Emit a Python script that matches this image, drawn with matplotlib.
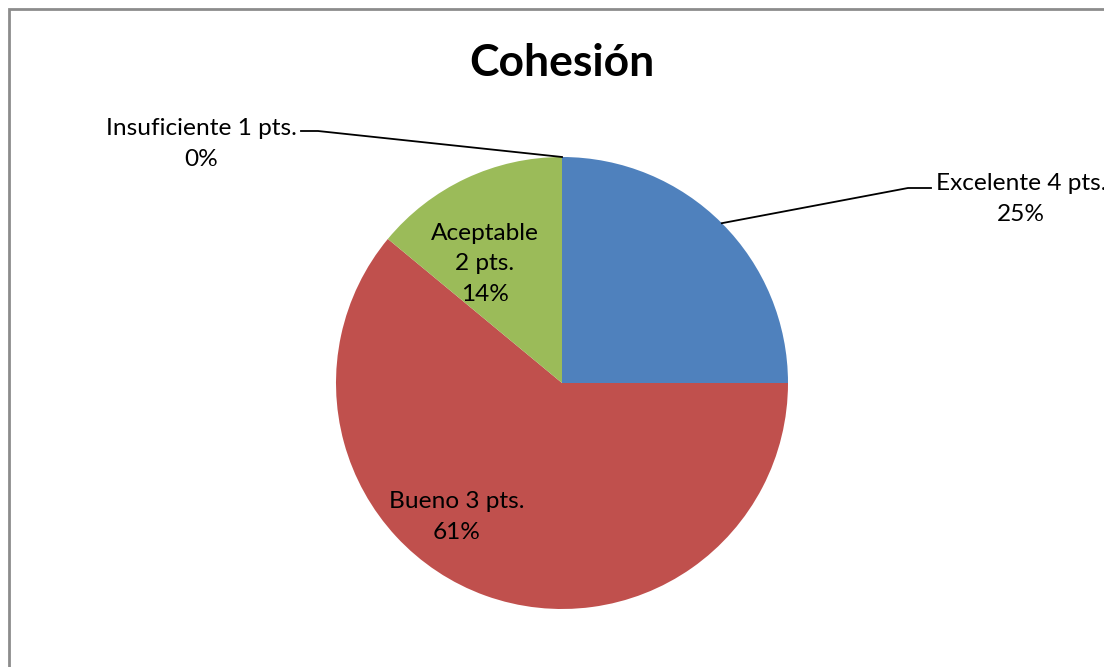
import matplotlib.pyplot as plt
from matplotlib.patches import Rectangle
import numpy as np

plt.rcParams['font.family'] = ['Lato', 'DejaVu Sans']

title = 'Cohesión'
categories = ['Excelente 4 pts.', 'Bueno 3 pts.', 'Aceptable 2 pts.', 'Insuficiente 1 pts.']
percents = [25, 61, 14, 0]
colors = ['#4F81BD', '#C0504D', '#9BBB59', '#8064A2']

W, H = 1104, 667
fig = plt.figure(figsize=(W / 100, H / 100), dpi=100)
ax = fig.add_axes([0, 0, 1, 1])

# marco gris del gráfico (se sale por la derecha y abajo)
fig.patches.append(Rectangle((8.5 / W, -0.05), 1.2, (H - 8.5) / H + 0.05,
                             transform=fig.transFigure, fill=False,
                             edgecolor='#8C8C8C', linewidth=2))

cx, cy, r = 562, H - 383, 226
wedges, _ = ax.pie(percents, colors=colors, startangle=90, counterclock=False,
                   center=(cx, cy), radius=r, frame=True,
                   wedgeprops=dict(linewidth=0))
ax.set_xlim(0, W)
ax.set_ylim(0, H)
ax.set_aspect('equal')
ax.axis('off')

fs = 17.6
ls = 1.55
ax.text(cx, H - 63, title, ha='center', va='center', fontsize=32, fontweight='bold')

def lbl(i):
    name = categories[i]
    return f'{name}\n{percents[i]}%'

def mid_point(w):
    a = np.deg2rad((w.theta1 + w.theta2) / 2)
    return cx + r * np.cos(a), cy + r * np.sin(a)

# etiquetas externas con líneas guía
x0, y0 = mid_point(wedges[0])
ax.plot([x0, 908, 931], [y0, H - 188, H - 188], color='black', lw=1.3)
ax.text(1021, H - 199, lbl(0), ha='center', va='center', fontsize=fs, linespacing=ls)

x3, y3 = mid_point(wedges[3])
ax.plot([x3, 318, 301], [y3, H - 131, H - 131], color='black', lw=1.3)
ax.text(201, H - 144, lbl(3), ha='center', va='center', fontsize=fs, linespacing=ls)

# etiquetas internas
ax.text(457, H - 517, lbl(1), ha='center', va='center', fontsize=fs, linespacing=ls)
ax.text(485, H - 264, 'Aceptable\n2 pts.\n14%', ha='center', va='center',
        fontsize=fs, linespacing=ls)

fig.savefig('out.png', dpi=100)
